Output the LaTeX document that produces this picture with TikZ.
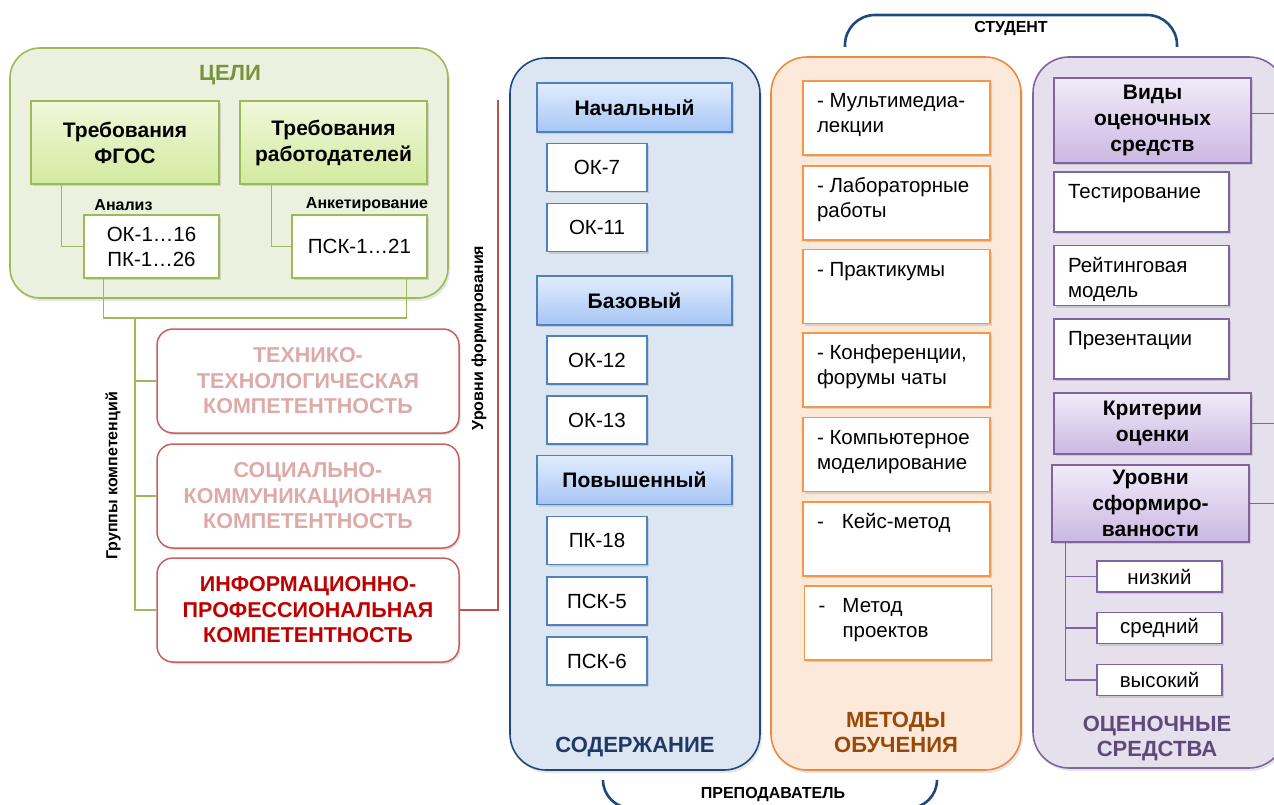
\documentclass[tikz,border=0pt]{standalone}
\usepackage{fontspec}
\setmainfont{Liberation Sans}
\usetikzlibrary{shadows}

\definecolor{gframe}{HTML}{9BBB59}
\definecolor{gfill}{HTML}{EBF1DE}
\definecolor{gtitle}{HTML}{77933C}
\definecolor{gtop}{HTML}{F0F8DA}
\definecolor{gbot}{HTML}{D3EAA0}
\definecolor{rframe}{HTML}{C9605D}
\definecolor{rpale}{HTML}{DDAAA9}
\definecolor{rstrong}{HTML}{C00000}
\definecolor{rline}{HTML}{C0504D}
\definecolor{bframe}{HTML}{1F497D}
\definecolor{bfill}{HTML}{DCE6F2}
\definecolor{bbox}{HTML}{4F81BD}
\definecolor{btop}{HTML}{E2EDFD}
\definecolor{bbot}{HTML}{A6C5F5}
\definecolor{btitle}{HTML}{1F3864}
\definecolor{oframe}{HTML}{EC8A40}
\definecolor{obox}{HTML}{F79646}
\definecolor{ofill}{HTML}{FDE9D9}
\definecolor{otitle}{HTML}{984807}
\definecolor{pframe}{HTML}{8064A2}
\definecolor{pfill}{HTML}{E5E0EC}
\definecolor{ptop}{HTML}{F1EBF8}
\definecolor{pbot}{HTML}{CBB8E2}
\definecolor{ptitle}{HTML}{5F497A}

\newcommand\fsbody{\fontsize{20.5}{25}\selectfont}
\newcommand\fshead{\bfseries\fontsize{21}{26}\selectfont}
\newcommand\fscomp{\bfseries\fontsize{21.5}{25.5}\selectfont}
\newcommand\fsnote{\bfseries\fontsize{16}{19}\selectfont}
\newcommand\fstitle{\bfseries\fontsize{22}{25}\selectfont}
\newcommand\toptext[3]{\parbox[c][#1][t]{#2}{\raggedright\strut #3}}

\tikzset{
  frame/.style={rounded corners=36pt, line width=1.6pt,
    drop shadow={opacity=0.2, shadow xshift=2pt, shadow yshift=-3pt}},
  boxshadow/.style={drop shadow={opacity=0.25, shadow xshift=1.5pt, shadow yshift=-2pt}},
  title/.style={font=\fstitle, align=center},
  note/.style={font=\fsnote},
  sidelbl/.style={font=\fsnote, rotate=90},
  greenhead/.style={draw=gframe, line width=1.5pt, top color=gtop, bottom color=gbot,
    font=\fshead, align=center, boxshadow},
  greenbox/.style={draw=gframe, line width=1.5pt, fill=white, align=center, boxshadow,
    minimum width=135pt, minimum height=63pt},
  compbox/.style={draw=rframe, line width=1.5pt, fill=white, rounded corners=16pt,
    font=\fscomp, align=center, minimum width=302pt, minimum height=104pt, boxshadow},
  bluehead/.style={draw=bbox, line width=1.5pt, top color=btop, bottom color=bbot,
    font=\fshead, minimum width=195pt, minimum height=49pt, boxshadow},
  bluebox/.style={draw=bbox, line width=1.5pt, fill=white,
    minimum width=100pt, minimum height=48pt, boxshadow},
  methbox/.style={draw=obox, line width=1.8pt, fill=white,
    minimum width=187pt, minimum height=74pt, boxshadow},
  purplehead/.style={draw=pframe, line width=1.5pt, top color=ptop, bottom color=pbot,
    font=\fshead, align=center, minimum width=197pt, boxshadow},
  purplebox/.style={draw=pframe, line width=1.5pt, fill=white,
    minimum width=175pt, minimum height=60pt, boxshadow},
  levelbox/.style={draw=pframe, line width=1.5pt, fill=white,
    minimum width=125pt, minimum height=31pt, boxshadow},
  gline/.style={draw=gframe, line width=1.3pt},
  rline/.style={draw=rline, line width=1.3pt},
  pline/.style={draw=pframe, line width=1.3pt},
  bracket/.style={draw=bframe, line width=2.6pt, rounded corners=30pt}
}

\begin{document}
\begin{tikzpicture}[x=1pt, y=-1pt, font=\fsbody, every node/.style={inner sep=0pt}]
\useasboundingbox (0,0) rectangle (1274,805);

% goals
\node[frame, draw=gframe, fill=gfill, rounded corners=30pt, minimum width=438pt, minimum height=250pt] (goals) at (229,173) {};
\node[title, text=gtitle] (goalslbl) at (230,75) {ЦЕЛИ};
\node[greenhead, minimum width=188pt, minimum height=83pt] (fgos) at (125,142.5) {Требования\\ФГОС};
\node[greenhead, minimum width=187pt, minimum height=83pt] (empl) at (333.5,142.5) {Требования\\работодателей};
\node[note] (analysis) at (123.5,205) {Анализ};
\node[note] (survey) at (367,205) {Анкетирование};
\node[greenbox] (okall) at (151.5,246.5) {ОК-1…16\\ПК-1…26};
\node[greenbox] (pskall) at (359.5,246.5) {ПСК-1…21};
\draw[gline] ([xshift=31pt]fgos.south west) |- (okall.west);
\draw[gline] ([xshift=32pt]empl.south west) |- (pskall.west);

% competence groups
\coordinate (join) at (135,318);
\draw[gline] ([xshift=20pt]okall.south west) |- (join) -| ([xshift=-21pt]pskall.south east);
\node[compbox, text=rpale] (tech) at (308,381) {ТЕХНИКО-\\ТЕХНОЛОГИЧЕСКАЯ\\КОМПЕТЕНТНОСТЬ};
\node[compbox, text=rpale] (social) at (308,496) {СОЦИАЛЬНО-\\КОММУНИКАЦИОННАЯ\\КОМПЕТЕНТНОСТЬ};
\node[compbox, text=rstrong] (info) at (308,610) {ИНФОРМАЦИОННО-\\ПРОФЕССИОНАЛЬНАЯ\\КОМПЕТЕНТНОСТЬ};
\draw[gline] (join) |- (tech.west);
\draw[gline] (join) |- (social.west);
\draw[gline] (join) |- (info.west);
\node[sidelbl] (grouplbl) at (113,476) {Группы компетенций};
\node[sidelbl] (levellbl) at (479,338) {Уровни формирования};
\coordinate (lvtop) at (498,100);
\draw[rline] (info.east) -| (lvtop);

% content
\node[frame, draw=bframe, fill=bfill, minimum width=250pt, minimum height=712pt] (content) at (635,414) {};
\node[title, text=btitle] (contentlbl) at (635,747) {СОДЕРЖАНИЕ};
\node[bluehead] (basic) at (634.5,107.5) {Начальный};
\node[bluebox] (ok7) at (597,167.5) {ОК-7};
\node[bluebox] (ok11) at (597,227.5) {ОК-11};
\node[bluehead] (base) at (634.5,300.5) {Базовый};
\node[bluebox] (ok12) at (597,360) {ОК-12};
\node[bluebox] (ok13) at (597,420) {ОК-13};
\node[bluehead] (high) at (634.5,480) {Повышенный};
\node[bluebox] (pk18) at (597,540.5) {ПК-18};
\node[bluebox] (psk5) at (597,601) {ПСК-5};
\node[bluebox] (psk6) at (597,661) {ПСК-6};

% methods
\node[frame, draw=oframe, fill=ofill, minimum width=250pt, minimum height=713pt] (methods) at (896,413.5) {};
\node[title, text=otitle] (methodslbl) at (896,732.5) {МЕТОДЫ\\ОБУЧЕНИЯ};
\node[methbox] (mlect) at (896.5,118) {\toptext{56pt}{159pt}{- Мультимедиа-\\лекции}};
\node[methbox] (mlab) at (896.5,203) {\toptext{56pt}{159pt}{- Лабораторные\\работы}};
\node[methbox] (mprac) at (896.5,286.5) {\toptext{56pt}{159pt}{- Практикумы}};
\node[methbox] (mconf) at (896.5,370) {\toptext{56pt}{159pt}{- Конференции,\\форумы чаты}};
\node[methbox] (mmod) at (896.5,454.5) {\toptext{56pt}{159pt}{- Компьютерное\\моделирование}};
\node[methbox] (mcase) at (896.5,539) {\toptext{56pt}{159pt}{-\hspace{18pt}Кейс-метод}};
\node[methbox] (mproj) at (898,623) {\toptext{56pt}{159pt}{\makebox[24pt][l]{-}Метод\\\hspace*{24pt}проектов}};

% assessment
\node[frame, draw=pframe, fill=pfill, minimum width=252pt, minimum height=711pt] (assess) at (1159,412.5) {};
\node[title, text=ptitle] (assesslbl) at (1157,738.5) {ОЦЕНОЧНЫЕ\\СРЕДСТВА};
\node[purplehead, minimum height=85pt] (kinds) at (1152.5,120.5) {Виды\\оценочных\\средств};
\node[purplebox] (test) at (1141.5,202) {\toptext{42pt}{147pt}{Тестирование}};
\node[purplebox] (rating) at (1141.5,275.5) {\toptext{42pt}{147pt}{Рейтинговая\\модель}};
\node[purplebox] (present) at (1141.5,349) {\toptext{42pt}{147pt}{Презентации}};
\node[purplehead, minimum height=61pt] (criteria) at (1152.5,423.5) {Критерии\\оценки};
\node[purplehead, minimum height=77pt] (grades) at (1150.5,503.5) {Уровни\\сформиро-\\ванности};
\node[levelbox] (low) at (1159.5,576.5) {низкий};
\node[levelbox] (mid) at (1159.5,628) {средний};
\node[levelbox] (top) at (1159.5,680) {высокий};
\draw[pline] ([xshift=14pt]grades.south west) |- (low.west);
\draw[pline] ([xshift=14pt]grades.south west) |- (mid.west);
\draw[pline] ([xshift=14pt]grades.south west) |- (top.west);
\coordinate (redge) at (1280,0);
\draw[pline] ([yshift=7pt]kinds.east) -- ([yshift=7pt]kinds.east -| redge);
\draw[pline] (criteria.east) -- (criteria.east -| redge);
\draw[pline] (grades.east) -- (grades.east -| redge);

% student / teacher
\coordinate (stl) at (845,47);
\coordinate (stmid) at (1011,15);
\coordinate (str) at (1177,47);
\draw[bracket] (stl) |- (stmid) -| (str);
\node[note] (student) at (1011,29) {СТУДЕНТ};
\coordinate (tcl) at (603,780);
\coordinate (tcmid) at (770,808);
\coordinate (tcr) at (937,780);
\draw[bracket, rounded corners=28pt] (tcl) |- (tcmid) -| (tcr);
\node[note] (teacher) at (773,795) {ПРЕПОДАВАТЕЛЬ};
\end{tikzpicture}
\end{document}
